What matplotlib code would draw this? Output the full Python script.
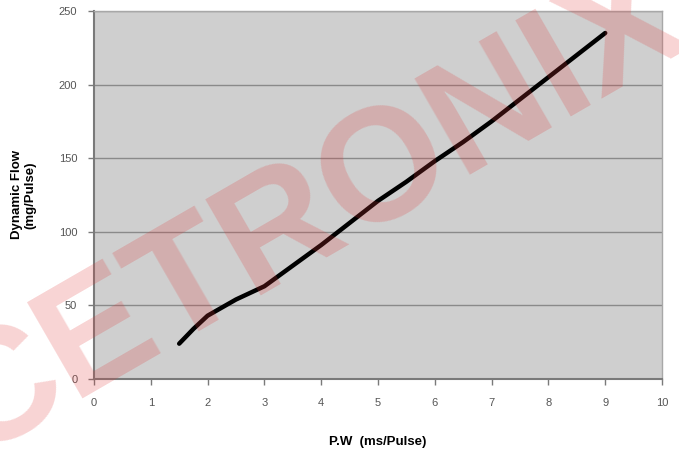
import matplotlib
matplotlib.use("Agg")
import matplotlib.pyplot as plt

plt.rcParams['font.family'] = ['Liberation Sans', 'DejaVu Sans']

# injector flow data
pulse_width = [1.5, 1.75, 2.0, 2.5, 3.0, 3.5, 4.0, 4.5, 5.0, 5.5, 6.0, 6.5, 7.0, 7.5, 8.0, 8.5, 9.0]
dynamic_flow = [24, 34, 43, 54, 63, 77, 91, 106, 121, 134, 148, 161, 175, 190, 205, 220, 235]
x_ticks = list(range(0, 11))
y_ticks = [0, 50, 100, 150, 200, 250]

fig = plt.figure(figsize=(6.79, 4.55), dpi=100)
ax = fig.add_axes([0.1384, 0.167, 0.8366, 0.809])
ax.set_facecolor('#cfcfcf')

ax.plot(pulse_width, dynamic_flow, color='black', linewidth=3.2, solid_capstyle='round', zorder=3)

ax.set_xlim(0, 10)
ax.set_ylim(0, 250)
ax.set_xticks(x_ticks)
ax.set_yticks(y_ticks)
ax.yaxis.grid(True, color='#8a8a8a', linewidth=1.0)
ax.set_axisbelow(True)

for side in ['left', 'bottom']:
    ax.spines[side].set_color('#7a7a7a')
    ax.spines[side].set_linewidth(1.5)
for side in ['top', 'right']:
    ax.spines[side].set_color('#a8a8a8')
    ax.spines[side].set_linewidth(1.0)

ax.tick_params(axis='both', colors='#7a7a7a', labelcolor='#555555', labelsize=8, length=4, width=1)
ax.tick_params(axis='x', pad=10)
ax.tick_params(axis='y', pad=8)

ax.set_xlabel('P.W  (ms/Pulse)', fontsize=9.5, fontweight='bold', labelpad=20)
ax.set_ylabel('Dynamic Flow\n(mg/Pulse)', fontsize=9.5, fontweight='bold', labelpad=16)

# faded watermark across the whole figure
fig.text(0.46, 0.53, 'CETRONIX', fontsize=116, fontweight='bold', color='#e03a3a', alpha=0.22,
         rotation=30, ha='center', va='center', zorder=10)

fig.savefig('out.png', dpi=100)
